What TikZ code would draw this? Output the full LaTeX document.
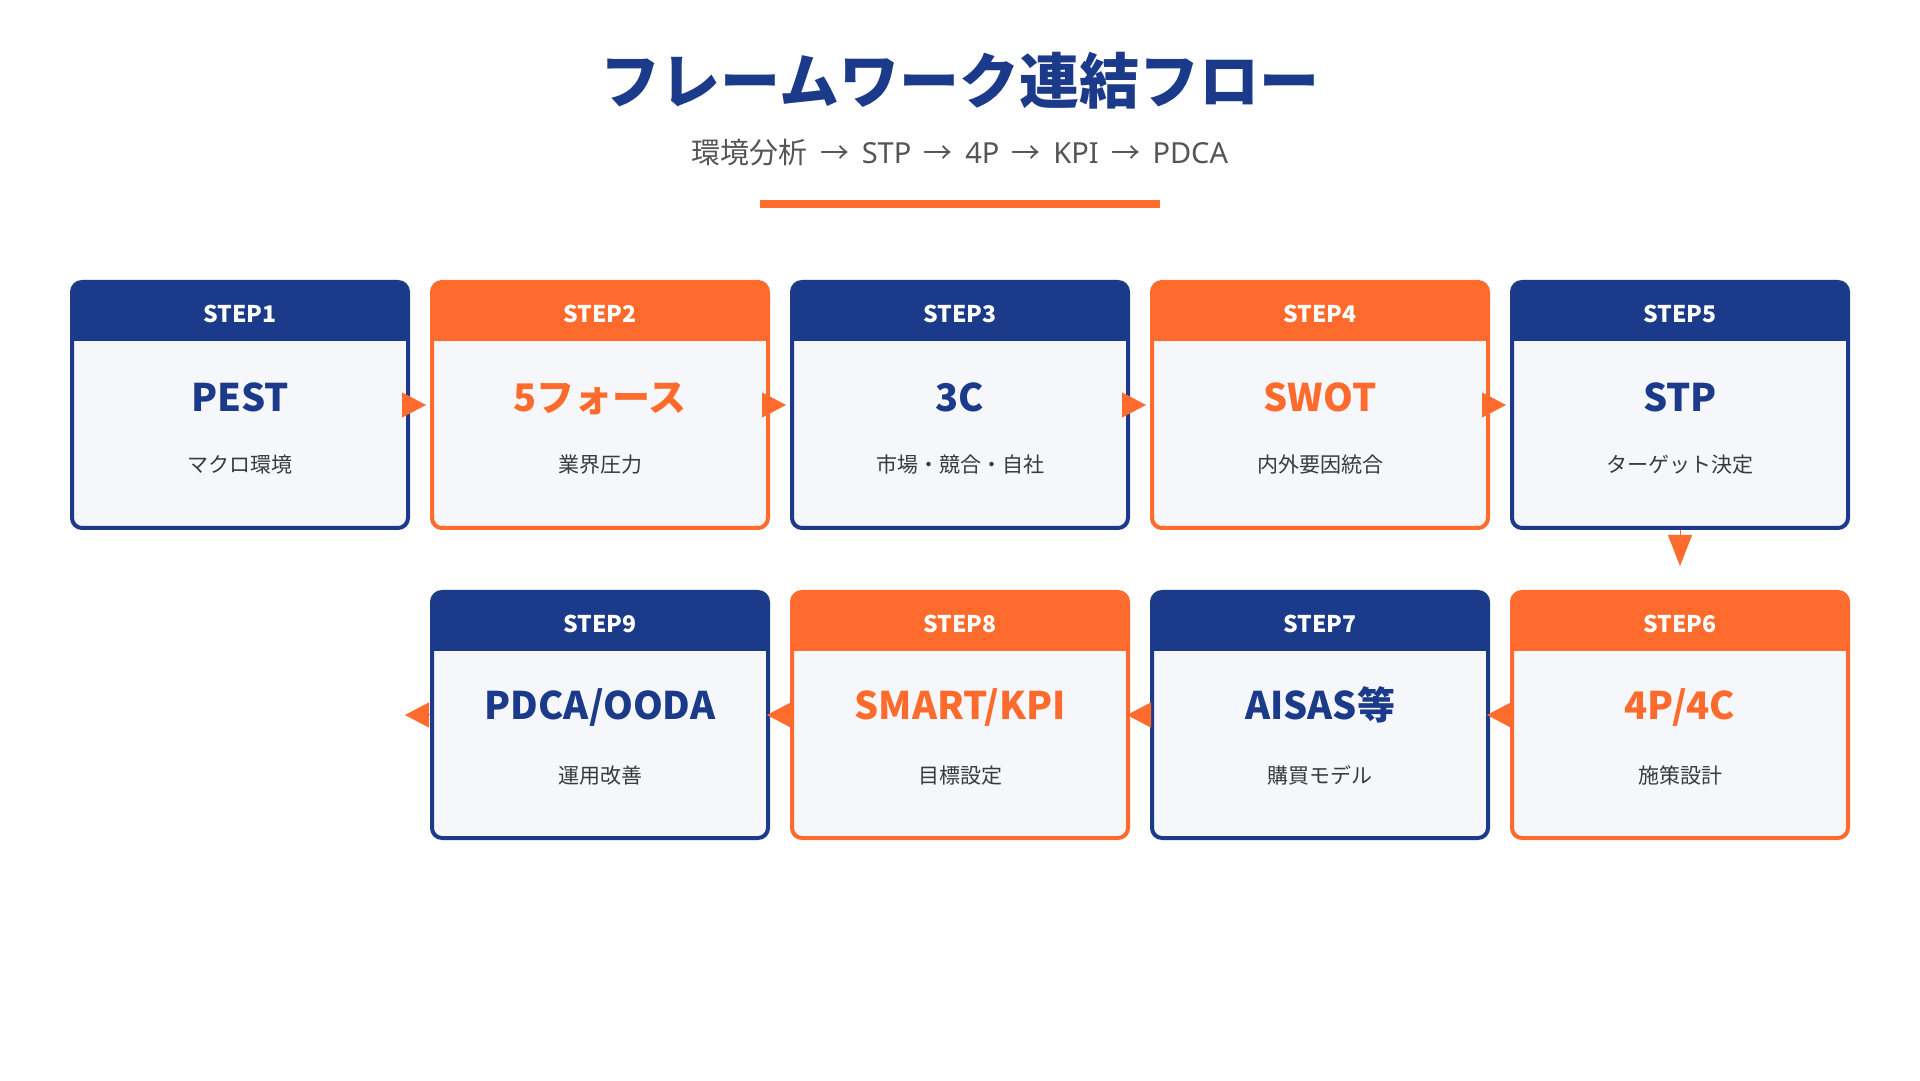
\documentclass[tikz,border=0pt]{standalone}
\usepackage{fontspec}
\setmainfont{Noto Sans CJK JP}
\newfontfamily\latinsans[WordSpace=1.65]{Noto Sans}
\usetikzlibrary{arrows.meta}
\definecolor{navy}{HTML}{1C3A8A}
\definecolor{accent}{HTML}{FF6B2C}
\definecolor{cardbg}{HTML}{F5F7FB}
\definecolor{subgray}{HTML}{555555}
\definecolor{textgray}{HTML}{3A3A3A}
\tikzset{
  card/.style={draw=#1, fill=cardbg, line width=4pt, rounded corners=10pt,
    minimum width=336pt, minimum height=246pt,
    path picture={\fill[#1, sharp corners] (path picture bounding box.north west)
      rectangle ([yshift=-59pt]path picture bounding box.north east);}},
  steplbl/.style={anchor=base, text=white, font=\bfseries\fontsize{23}{26}\selectfont},
  mainlbl/.style={anchor=base, text=#1, font=\bfseries\fontsize{38}{42}\selectfont},
  sublbl/.style={anchor=base, text=textgray, font=\fontsize{21}{24}\selectfont},
  flow/.style={accent, line width=1pt, -{Triangle[length=24pt,width=25pt]}},
}
\begin{document}
\begin{tikzpicture}[x=1pt, y=1pt]
            \useasboundingbox[fill=white] (0,0) rectangle (1920,1080);

            % Title
            \node[anchor=base, text=navy, font=\bfseries\fontsize{60}{64}\selectfont] (title) at (960,976) {フレームワーク連結フロー};
            \node[anchor=base, text=subgray, font=\fontsize{29}{32}\selectfont] (subtitle) at (960,916)
              {環境分析{\latinsans~}→{\latinsans~STP~}→{\latinsans~4P~}→{\latinsans~KPI~}→{\latinsans~PDCA}};
            \fill[accent] (760,872) rectangle (1160,880);

            % Define the steps, top row
            \node[card=navy] (b1) at (240,675) {};
            \node[card=accent] (b2) at (600,675) {};
            \node[card=navy] (b3) at (960,675) {};
            \node[card=accent] (b4) at (1320,675) {};
            \node[card=navy] (b5) at (1680,675) {};

            % Define the steps, bottom row
            \node[card=accent] (b6) at (1680,365) {};
            \node[card=navy] (b7) at (1320,365) {};
            \node[card=accent] (b8) at (960,365) {};
            \node[card=navy] (b9) at (600,365) {};

            % Step labels
            \node[steplbl] (h1) at (240,757) {STEP1};
            \node[steplbl] (h2) at (600,757) {STEP2};
            \node[steplbl] (h3) at (960,757) {STEP3};
            \node[steplbl] (h4) at (1320,757) {STEP4};
            \node[steplbl] (h5) at (1680,757) {STEP5};
            \node[steplbl] (h6) at (1680,447) {STEP6};
            \node[steplbl] (h7) at (1320,447) {STEP7};
            \node[steplbl] (h8) at (960,447) {STEP8};
            \node[steplbl] (h9) at (600,447) {STEP9};

            % Frameworks
            \node[mainlbl=navy] (m1) at (240,668) {PEST};
            \node[mainlbl=accent] (m2) at (600,668) {5フォース};
            \node[mainlbl=navy] (m3) at (960,668) {3C};
            \node[mainlbl=accent] (m4) at (1320,668) {SWOT};
            \node[mainlbl=navy] (m5) at (1680,668) {STP};
            \node[mainlbl=accent] (m6) at (1680,360) {4P/4C};
            \node[mainlbl=navy] (m7) at (1320,360) {AISAS等};
            \node[mainlbl=accent] (m8) at (960,360) {SMART/KPI};
            \node[mainlbl=navy] (m9) at (600,360) {PDCA/OODA};

            % Descriptions
            \node[sublbl] (d1) at (240,607) {マクロ環境};
            \node[sublbl] (d2) at (600,607) {業界圧力};
            \node[sublbl] (d3) at (960,607) {市場・競合・自社};
            \node[sublbl] (d4) at (1320,607) {内外要因統合};
            \node[sublbl] (d5) at (1680,607) {ターゲット決定};
            \node[sublbl] (d6) at (1680,297) {施策設計};
            \node[sublbl] (d7) at (1320,297) {購買モデル};
            \node[sublbl] (d8) at (960,297) {目標設定};
            \node[sublbl] (d9) at (600,297) {運用改善};

            % Draw arrows
            \draw[flow] (b1.east) -- ([xshift=-4pt]b2.west);
            \draw[flow] (b2.east) -- ([xshift=-4pt]b3.west);
            \draw[flow] (b3.east) -- ([xshift=-4pt]b4.west);
            \draw[flow] (b4.east) -- ([xshift=-4pt]b5.west);
            \draw[flow, -{Triangle[length=31pt,width=24pt]}] (b5.south) -- ([yshift=24pt]b6.north);
            \draw[flow] (b6.west) -- ([xshift=-3pt]b7.east);
            \draw[flow] (b7.west) -- ([xshift=-3pt]b8.east);
            \draw[flow] (b8.west) -- ([xshift=-3pt]b9.east);
            \coordinate (fin) at (405,365);
            \draw[flow] (b9.west) -- (fin);
        \end{tikzpicture}
\end{document}
